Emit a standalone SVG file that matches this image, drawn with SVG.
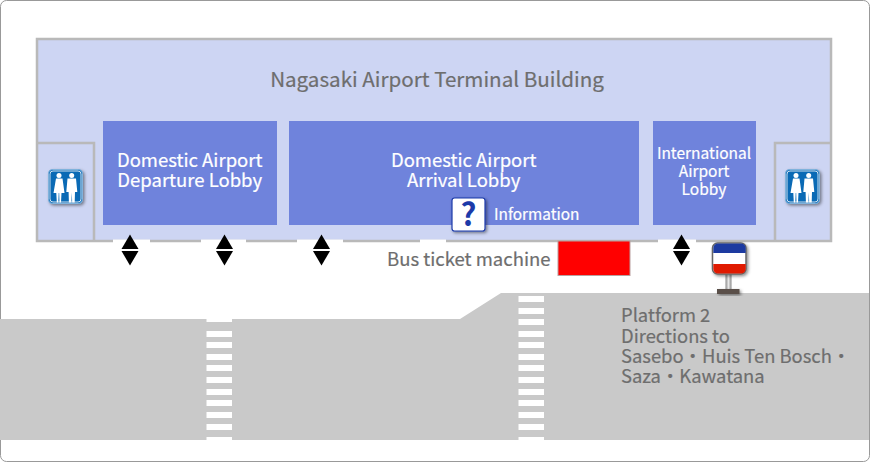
<svg xmlns="http://www.w3.org/2000/svg" width="870" height="462" viewBox="0 0 870 462">
<style>
text{font-family:"Noto Sans CJK JP","Noto Sans",sans-serif}
.g{fill:#6e6e6e;stroke:#6e6e6e;stroke-width:.2}
.w{fill:#fff;text-anchor:middle;stroke:#fff;stroke-width:.2}
.lobby{fill:#6f83dc}
.wall{fill:none;stroke:#b9b9b9;stroke-width:2.500}
.stripe{fill:#fff}
</style>
<defs>
<linearGradient id="pole" x1="0" x2="1" y1="0" y2="0"><stop offset="0" stop-color="#8a8a8a"/><stop offset=".5" stop-color="#e8e8e8"/><stop offset="1" stop-color="#8a8a8a"/></linearGradient>
<filter id="sh" x="-30%" y="-30%" width="170%" height="170%"><feDropShadow dx="1.500" dy="1.500" stdDeviation="1.500" flood-color="#000" flood-opacity=".45"/></filter>
<g id="arrows"><path d="M0 0l8.500 14.500h-17z"/><path d="M-8.500 16.500h17L0 31z"/></g>
<g id="wc">
<rect x=".5" y=".5" width="34" height="34" rx="4" fill="#0a6ab5" stroke="#7fb2dc" filter="url(#sh)"/>
<rect x="2" y="2" width="31" height="31" rx="3" fill="#0a6ab5" stroke="#fff" stroke-width=".8"/>
<circle cx="11" cy="6.500" r="2.500" fill="#fff"/><circle cx="23.700" cy="6.500" r="2.500" fill="#fff"/>
<path d="M8 9.500h6.500l2 14.500h-3l-.5 9.500h-1.500l-.3-9.500h-.5l-.4 9.500h-1.500l-.5-9.500h-2.800z" fill="#fff"/>
<path d="M19.500 9.500h8.500l1.300 13.500h-2.300l-.3 10.500h-2.500l-.4-10-.4 10h-2.500l-.3-10.500h-2.300z" fill="#fff"/>
</g>
</defs>
<rect x=".5" y=".5" width="869" height="461" rx="6" fill="#fff" stroke="#999"/>
<g id="road">
<path d="M0 319H460L501 293H869V440H0Z" fill="#c9c9c9"/>
<g class="stripe">
<rect x="206.500" y="318" width="25.500" height="4"/>
<rect x="206.500" y="331" width="25.500" height="6"/><rect x="206.500" y="342" width="25.500" height="6"/><rect x="206.500" y="354" width="25.500" height="6"/><rect x="206.500" y="365" width="25.500" height="6"/><rect x="206.500" y="377" width="25.500" height="6"/><rect x="206.500" y="389" width="25.500" height="6"/><rect x="206.500" y="400" width="25.500" height="6"/><rect x="206.500" y="412" width="25.500" height="6"/><rect x="206.500" y="424" width="25.500" height="6"/><rect x="206.500" y="437" width="25.500" height="4"/>
<rect x="518.500" y="296" width="25.500" height="6"/><rect x="518.500" y="308" width="25.500" height="6"/><rect x="518.500" y="319" width="25.500" height="6"/><rect x="518.500" y="331" width="25.500" height="6"/><rect x="518.500" y="342" width="25.500" height="6"/><rect x="518.500" y="354" width="25.500" height="6"/><rect x="518.500" y="365" width="25.500" height="6"/><rect x="518.500" y="377" width="25.500" height="6"/><rect x="518.500" y="389" width="25.500" height="6"/><rect x="518.500" y="400" width="25.500" height="6"/><rect x="518.500" y="412" width="25.500" height="6"/><rect x="518.500" y="424" width="25.500" height="6"/><rect x="518.500" y="437" width="25.500" height="4"/>
</g>
</g>
<g id="terminal">
<rect x="37" y="39" width="794" height="202" fill="#cdd5f3" stroke="#b9b9b9" stroke-width="2.500"/>
<g fill="#fff"><rect x="113" y="239.500" width="37" height="3.500"/><rect x="201" y="239.500" width="45" height="3.500"/><rect x="297" y="239.500" width="46" height="3.500"/><rect x="420" y="239.500" width="26" height="3.500"/><rect x="658" y="239.500" width="38" height="3.500"/></g>
<text x="437" y="87" text-anchor="middle" font-size="20.600" class="g">Nagasaki Airport Terminal Building</text>
</g>
<g id="restroom-left"><path class="wall" d="M37 143H94V241"/><use href="#wc" x="48" y="169"/></g>
<g id="restroom-right"><path class="wall" d="M831 143H775V241"/><use href="#wc" x="785" y="169"/></g>
<g id="departure"><rect class="lobby" x="103" y="121" width="174" height="104"/>
<text class="w" font-size="18.500" x="189.700" y="167">Domestic Airport</text><text class="w" font-size="18.500" x="189.700" y="187">Departure Lobby</text></g>
<g id="arrival"><rect class="lobby" x="289" y="121" width="350" height="104"/>
<text class="w" font-size="18.500" x="463.700" y="167">Domestic Airport</text><text class="w" font-size="18.500" x="463.700" y="187">Arrival Lobby</text></g>
<g id="international"><rect class="lobby" x="653" y="121" width="103" height="104"/>
<text class="w" font-size="15.500" x="704" y="159">International</text><text class="w" font-size="15.500" x="704" y="177">Airport</text><text class="w" font-size="15.500" x="704" y="195">Lobby</text></g>
<g id="info">
<rect x="452" y="198" width="33" height="33" rx="2.500" fill="#fff" stroke="#1c3aa9" stroke-width="1.200" filter="url(#sh)"/>
<text x="468.500" y="226" text-anchor="middle" font-size="31" font-weight="700" fill="#1c3aa9">?</text>
<text x="494" y="220" font-size="15.400" fill="#fff" stroke="#fff" stroke-width=".2">Information</text></g>
<g id="connectors">
<use href="#arrows" x="130" y="234.500"/><use href="#arrows" x="224.500" y="234.500"/><use href="#arrows" x="321.500" y="234.500"/><use href="#arrows" x="681.500" y="234.500"/>
</g>
<g id="bus-ticket">
<text x="387" y="265.500" font-size="18.500" class="g">Bus ticket machine</text>
<rect x="558" y="241" width="72" height="34.500" fill="#f00" stroke="#b9a0a0"/></g>
<g id="bus-stop">
<rect x="725.500" y="274" width="6" height="16" fill="url(#pole)"/>
<rect x="717" y="289" width="22.500" height="5" fill="#5a5048" filter="url(#sh)"/>
<rect x="712.500" y="243" width="33.500" height="31" rx="5" fill="#fff" stroke="#666" stroke-width="1.500" filter="url(#sh)"/>
<path d="M713.300 253v-5a4.500 4.500 0 0 1 4.500-4.500h23.400a4.500 4.500 0 0 1 4.500 4.500v5z" fill="#1c3aa0"/>
<path d="M713.300 264v5a4.500 4.500 0 0 0 4.500 4.500h23.400a4.500 4.500 0 0 0 4.500-4.500v-5z" fill="#e01a00"/>
</g>
<g id="platform" class="g" font-size="18.400">
<text x="621" y="322">Platform 2</text><text x="621" y="343">Directions to</text><text x="621" y="363">Sasebo・Huis Ten Bosch・</text><text x="621" y="383">Saza・Kawatana</text></g>
</svg>
